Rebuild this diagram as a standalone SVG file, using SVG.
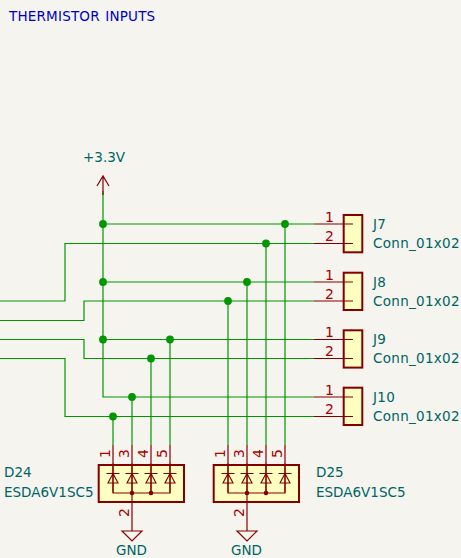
<svg xmlns="http://www.w3.org/2000/svg" width="461" height="558" viewBox="0 0 461 558">
<style>
text{font-family:"DejaVu Sans",sans-serif}
.w{fill:none;stroke:#009600;stroke-width:1.200}
.j{fill:#009600}
.p{fill:none;stroke:#840000;stroke-width:1.200}
.b{fill:#ffffc2;stroke:#840000;stroke-width:2}
.n{fill:#a90000;font-size:14px}
.l{fill:#006464;font-size:13.500px;letter-spacing:.3px}
.c{fill:#006464;font-size:13.500px;letter-spacing:0}
.t{fill:#0000c2;font-size:13.500px;letter-spacing:.2px;word-spacing:1px}
.d{fill:none;stroke:#840000;stroke-width:1.100}
.k{fill:#840000}
</style>
<defs>
<g id="diode"><path class="d" d="M-6.500 0H6.500M0 -10V19M0 0L-5 9.500H5Z"/></g>
</defs>
<rect width="461" height="558" fill="#f5f4ef"/>
<text x="9" y="21" class="t">THERMISTOR INPUTS</text>
<g id="connectors">
<path class="w" d="M103 191V397H314M103 224H314M103 282H314M103 339.500H314"/>
<path class="w" d="M0 301H65V243.500H314M0 320.500H84V301H314M0 339.500H84V358.500H314M0 358.500H65V416.500H314"/>
<path class="w" d="M113 416.500V445M132 397V445M151 358.500V445M170 339.500V445M228 301V445M247 282V445M266 243.500V445M285 224V445"/>
<g class="j">
<circle cx="103" cy="224" r="3.900"/><circle cx="285" cy="224" r="3.900"/><circle cx="266" cy="243.500" r="3.900"/>
<circle cx="103" cy="282" r="3.900"/><circle cx="247" cy="282" r="3.900"/><circle cx="228" cy="301" r="3.900"/>
<circle cx="103" cy="339.500" r="3.900"/><circle cx="170" cy="339.500" r="3.900"/><circle cx="151" cy="358.500" r="3.900"/>
<circle cx="132" cy="397" r="3.900"/><circle cx="113" cy="416.500" r="3.900"/>
</g>
</g>
<g id="pwr"><path class="p" d="M103 195V176M97 186L103 176L109 186"/><text x="83" y="162" class="c">+3.3V</text></g>
<g id="J7"><rect class="b" x="343.700" y="215" width="18.600" height="37.300"/><path class="p" d="M314 224H353M314 243.500H353"/><text class="n" x="325" y="222">1</text><text class="n" x="325" y="241">2</text><text class="l" x="373" y="229">J7</text><text class="l" x="373" y="248">Conn_01x02</text></g>
<g id="J8"><rect class="b" x="343.700" y="272.700" width="18.600" height="37.300"/><path class="p" d="M314 282H353M314 301H353"/><text class="n" x="325" y="280">1</text><text class="n" x="325" y="299">2</text><text class="l" x="373" y="287">J8</text><text class="l" x="373" y="306">Conn_01x02</text></g>
<g id="J9"><rect class="b" x="343.700" y="330.300" width="18.600" height="37.300"/><path class="p" d="M314 339.500H353M314 358.500H353"/><text class="n" x="325" y="337">1</text><text class="n" x="325" y="356">2</text><text class="l" x="373" y="344">J9</text><text class="l" x="373" y="363">Conn_01x02</text></g>
<g id="J10"><rect class="b" x="343.700" y="387.700" width="18.600" height="37.300"/><path class="p" d="M314 397H353M314 416.500H353"/><text class="n" x="325" y="395">1</text><text class="n" x="325" y="414">2</text><text class="l" x="373" y="402">J10</text><text class="l" x="373" y="421">Conn_01x02</text></g>
<g id="D24"><rect class="b" x="98.700" y="465" width="85.300" height="37"/>
<path class="p" d="M113 445V493H170V445M132 445V522M151 445V493"/>
<use href="#diode" x="113" y="473.500"/><use href="#diode" x="132" y="473.500"/><use href="#diode" x="151" y="473.500"/><use href="#diode" x="170" y="473.500"/>
<circle class="k" cx="132" cy="493" r="2.300"/><circle class="k" cx="151" cy="493" r="2.300"/>
<text class="n" transform="translate(110 458) rotate(-90)">1</text><text class="n" transform="translate(129 458) rotate(-90)">3</text><text class="n" transform="translate(148 458) rotate(-90)">4</text><text class="n" transform="translate(167 458) rotate(-90)">5</text><text class="n" transform="translate(129 517) rotate(-90)">2</text>
<text class="c" x="4" y="477">D24</text><text class="c" x="4" y="497">ESDA6V1SC5</text>
<path class="p" d="M132 522V531M122 531H142L132 541Z"/><text class="c" x="116" y="554.700">GND</text></g>
<g id="D25"><rect class="b" x="213.700" y="465" width="85.300" height="37"/>
<path class="p" d="M228 445V493H285V445M247 445V522M266 445V493"/>
<use href="#diode" x="228" y="473.500"/><use href="#diode" x="247" y="473.500"/><use href="#diode" x="266" y="473.500"/><use href="#diode" x="285" y="473.500"/>
<circle class="k" cx="247" cy="493" r="2.300"/><circle class="k" cx="266" cy="493" r="2.300"/>
<text class="n" transform="translate(225 458) rotate(-90)">1</text><text class="n" transform="translate(244 458) rotate(-90)">3</text><text class="n" transform="translate(263 458) rotate(-90)">4</text><text class="n" transform="translate(282 458) rotate(-90)">5</text><text class="n" transform="translate(244 517) rotate(-90)">2</text>
<text class="c" x="316" y="477">D25</text><text class="c" x="316" y="497">ESDA6V1SC5</text>
<path class="p" d="M247 522V531M237 531H257L247 541Z"/><text class="c" x="231" y="554.700">GND</text></g>
</svg>
